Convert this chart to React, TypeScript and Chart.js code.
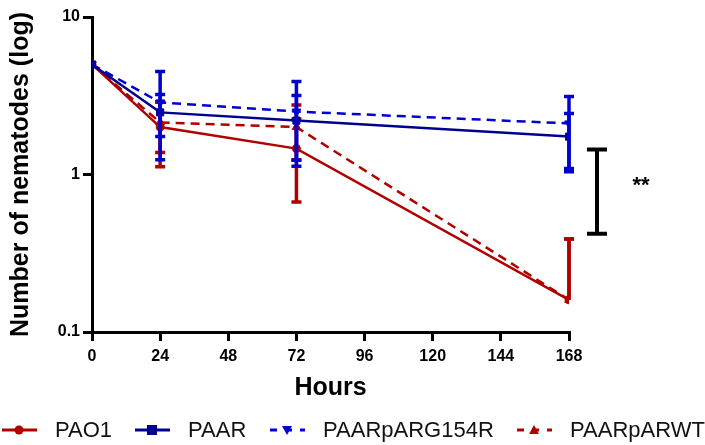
import React, { useEffect, useRef } from "react";
import { Chart, registerables } from "chart.js";

Chart.register(...registerables);

const hours = [0, 24, 72, 168];
const xTicks = [0, 24, 48, 72, 96, 120, 144, 168];
const yTicks = [0.1, 1, 10];

const pao1 = [5.0, 2.0, 1.46, 0.16];
const pao1Err = [0, 0.88, 0.79, 0.23];
const paar = [5.0, 2.48, 2.2, 1.74];
const paarErr = [0, 0.74, 0.97, 0.7];
const paarG154R = [5.0, 2.87, 2.51, 2.11];
const paarG154RErr = [0, 1.63, 1.38, 1.02];
const paarWT = [5.0, 2.14, 2.0, 0.16];
const paarWTErr = [0, 0.76, 0.76, 0.23];

const sigRange = [0.42, 1.44];
const sigLabel = "**";

const RED = "#b00000";
const NAVY = "#00008f";
const BLUE = "#0000d0";

const seriesDefs = [
  { label: "PAO1", data: pao1, err: pao1Err, color: RED, errColor: RED, dash: [], style: "circle", radius: 4, order: 2 },
  { label: "PAAR", data: paar, err: paarErr, color: NAVY, errColor: BLUE, dash: [], style: "rect", radius: 5, order: 1 },
  { label: "PAARpARG154R", data: paarG154R, err: paarG154RErr, color: BLUE, errColor: BLUE, dash: [9, 6], style: "triangle", radius: 5, rotation: 180, order: 1 },
  { label: "PAARpARWT", data: paarWT, err: paarWTErr, color: RED, errColor: RED, dash: [9, 6], style: "triangle", radius: 5, rotation: 0, order: 2 },
];

const errorBarPlugin = {
  id: "errorBars",
  afterDatasetDraw(chart: any, args: any) {
    const ds = chart.data.datasets[args.index];
    const errs: number[] = ds.errors;
    if (!errs) return;
    const { ctx, scales } = chart;
    const xs = scales.x;
    const ys = scales.y;
    ctx.save();
    ctx.strokeStyle = ds.errColor;
    ctx.lineWidth = 3.5;
    ctx.setLineDash([]);
    const cap = 5;
    ds.data.forEach((p: any, i: number) => {
      const e = errs[i];
      if (!e) return;
      const x = xs.getPixelForValue(p.x);
      const yc = ys.getPixelForValue(p.y);
      const yTop = ys.getPixelForValue(p.y + e);
      const lo = p.y - e;
      ctx.beginPath();
      ctx.moveTo(x, yc);
      ctx.lineTo(x, yTop);
      ctx.moveTo(x - cap, yTop);
      ctx.lineTo(x + cap, yTop);
      if (lo > 0) {
        const yLo = ys.getPixelForValue(lo);
        ctx.moveTo(x, yc);
        ctx.lineTo(x, yLo);
        ctx.moveTo(x - cap, yLo);
        ctx.lineTo(x + cap, yLo);
      }
      ctx.stroke();
    });
    ctx.restore();
  },
};

const annotPlugin = {
  id: "annot",
  afterDraw(chart: any) {
    const { ctx, scales, chartArea } = chart;
    const ys = scales.y;
    const x = chartArea.right + 28;
    const y1 = ys.getPixelForValue(sigRange[1]);
    const y0 = ys.getPixelForValue(sigRange[0]);
    ctx.save();
    ctx.strokeStyle = "#000";
    ctx.lineWidth = 4;
    ctx.beginPath();
    ctx.moveTo(x, y0);
    ctx.lineTo(x, y1);
    ctx.moveTo(x - 10, y1);
    ctx.lineTo(x + 10, y1);
    ctx.moveTo(x - 10, y0);
    ctx.lineTo(x + 10, y0);
    ctx.stroke();
    ctx.fillStyle = "#000";
    ctx.font = "bold 22px 'Liberation Sans', Arial, sans-serif";
    ctx.textAlign = "center";
    ctx.textBaseline = "middle";
    ctx.fillText(sigLabel, x + 44, (y0 + y1) / 2 - 6);

    // legend
    const ly = 430;
    const starts = [2, 135, 270, 517];
    ctx.font = "22px 'Liberation Sans', Arial, sans-serif";
    ctx.textAlign = "left";
    seriesDefs.forEach((s, i) => {
      const sx = starts[i];
      ctx.strokeStyle = s.color;
      ctx.fillStyle = s.color;
      ctx.lineWidth = 3;
      ctx.setLineDash(s.dash.length ? [7, 8] : []);
      ctx.beginPath();
      ctx.moveTo(sx, ly);
      ctx.lineTo(sx + 35, ly);
      ctx.stroke();
      ctx.setLineDash([]);
      const mx = sx + 17;
      ctx.beginPath();
      if (s.style === "circle") {
        ctx.arc(mx, ly, 4.5, 0, Math.PI * 2);
      } else if (s.style === "rect") {
        ctx.rect(mx - 5, ly - 5, 10, 10);
      } else if (s.rotation === 180) {
        ctx.moveTo(mx - 5, ly - 4);
        ctx.lineTo(mx + 5, ly - 4);
        ctx.lineTo(mx, ly + 5);
        ctx.closePath();
      } else {
        ctx.moveTo(mx - 5, ly + 4);
        ctx.lineTo(mx + 5, ly + 4);
        ctx.lineTo(mx, ly - 5);
        ctx.closePath();
      }
      ctx.fill();
      ctx.fillStyle = "#111";
      ctx.textBaseline = "middle";
      ctx.fillText(s.label, sx + 53, ly + 1);
    });
    ctx.restore();
  },
};

export default function App() {
  const ref = useRef<HTMLCanvasElement | null>(null);
  useEffect(() => {
    if (!ref.current) return;
    const chart = new Chart(ref.current, {
      type: "line",
      data: {
        datasets: seriesDefs.map((s) => ({
          label: s.label,
          data: hours.map((h, i) => ({ x: h, y: s.data[i] })),
          errors: s.err,
          errColor: s.errColor,
          borderColor: s.color,
          backgroundColor: s.color,
          borderWidth: 2.5,
          borderDash: s.dash,
          pointStyle: s.style,
          pointRadius: s.radius,
          pointRotation: s.rotation || 0,
          pointBorderWidth: 1,
          pointBackgroundColor: s.color,
          pointBorderColor: s.color,
          tension: 0,
          fill: false,
          order: s.order,
        })) as any,
      },
      options: {
        responsive: false,
        animation: false,
        layout: { padding: { left: 0, right: 136, top: 17, bottom: 40 } },
        plugins: { legend: { display: false }, tooltip: { enabled: false } },
        scales: {
          x: {
            type: "linear",
            min: 0,
            max: 168,
            afterBuildTicks: (scale: any) => {
              scale.ticks = xTicks.map((v) => ({ value: v }));
            },
            afterFit: (scale: any) => {
              scale.height = 73;
            },
            ticks: {
              color: "#000",
              padding: 6,
              maxRotation: 0,
              font: { family: "'Liberation Sans', Arial, sans-serif", size: 16, weight: "bold" },
            },
            grid: { drawOnChartArea: false, drawTicks: true, tickLength: 9, color: "#000", lineWidth: 3 },
            border: { display: true, color: "#000", width: 3 },
            title: {
              display: true,
              text: "Hours",
              color: "#000",
              padding: { top: 0, bottom: 4 },
              font: { family: "'Liberation Sans', Arial, sans-serif", size: 25, weight: "bold", lineHeight: 1 },
            },
          },
          y: {
            type: "logarithmic",
            min: 0.1,
            max: 10,
            afterBuildTicks: (scale: any) => {
              scale.ticks = yTicks.map((v) => ({ value: v }));
            },
            afterFit: (scale: any) => {
              scale.width = 92;
            },
            ticks: {
              color: "#000",
              padding: 3,
              callback: (v: any) => String(v),
              font: { family: "'Liberation Sans', Arial, sans-serif", size: 16, weight: "bold" },
            },
            grid: { drawOnChartArea: false, drawTicks: true, tickLength: 9, color: "#000", lineWidth: 3 },
            border: { display: true, color: "#000", width: 3 },
            title: {
              display: true,
              text: "Number of nematodes (log)",
              color: "#000",
              padding: { top: 9, bottom: 0 },
              font: { family: "'Liberation Sans', Arial, sans-serif", size: 25, weight: "bold", lineHeight: 1 },
            },
          },
        },
      },
      plugins: [errorBarPlugin, annotPlugin],
    } as any);
    return () => chart.destroy();
  }, []);
  return (
    <div style={{ position: "fixed", left: 0, top: 0, width: 705, height: 445, background: "#fff" }}>
      <canvas ref={ref} width={705} height={445} />
    </div>
  );
}
